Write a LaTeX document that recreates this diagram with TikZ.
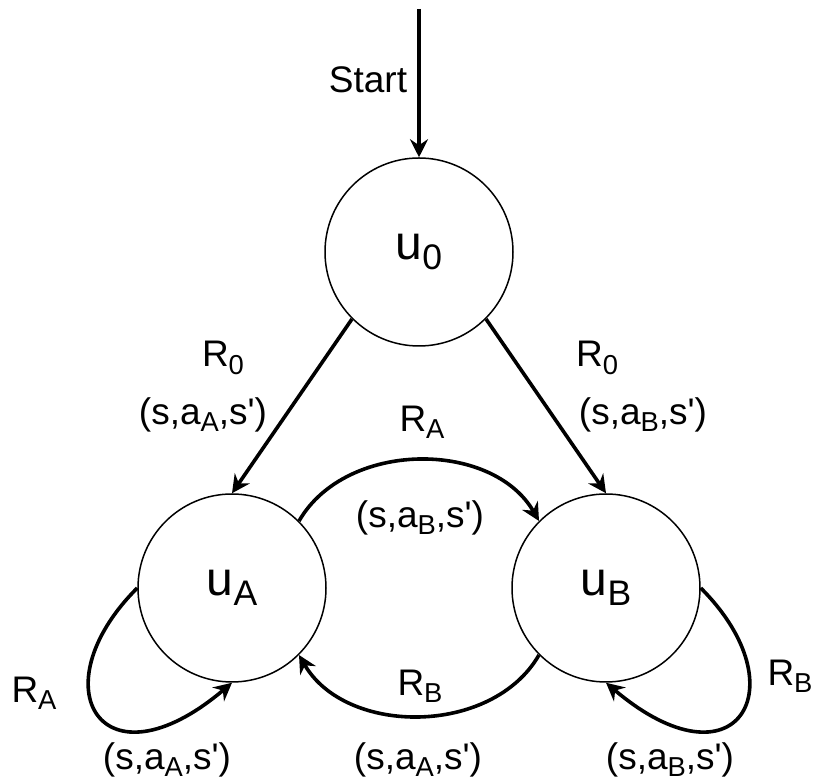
\documentclass[tikz,border=0pt]{standalone}
\usepackage{fontspec}
\usepackage{graphicx}
\setmainfont{Liberation Sans}
\usetikzlibrary{arrows.meta}
\tikzset{
  state/.style={circle,draw,line width=0.75pt,minimum size=94pt,inner sep=0pt,font=\fontsize{24}{28}\selectfont},
  trans/.style={-{Stealth[length=9pt,width=9pt,inset=3pt]},line width=1.8pt},
  lbl/.style={inner sep=0pt,font=\fontsize{18.5}{22}\selectfont}
}
\newcommand{\lowsub}[1]{\raisebox{-0.2em}{\scalebox{0.74}{#1}}}
\newcommand{\tup}[1]{(s,a\lowsub{#1},s\textquotesingle)}

\begin{document}
\begin{tikzpicture}[x=0.5pt,y=0.5pt]

    \useasboundingbox (0,0) rectangle (815,782);

    % States
    \node[state] at (419,530) (U0) {u\lowsub{0}};
    \node[state] at (232,194) (UA) {u\lowsub{A}};
    \node[state] at (606,194) (UB) {u\lowsub{B}};

    % Start
    \coordinate (Start) at (419,773);
    \draw[trans] (Start) -- (U0.north);
    \node[lbl] at (368,702) (LStart) {Start};

    % From u0
    \draw[trans] (U0.-135) -- (UA.north);
    \draw[trans] (U0.-45) -- (UB.north);
    \node[lbl] at (223,424) (L0a) {R\lowsub{0}};
    \node[lbl] at (203,367) (T0a) {\tup{A}};
    \node[lbl] at (597,424) (L0b) {R\lowsub{0}};
    \node[lbl] at (643,367) (T0b) {\tup{B}};

    % Between uA and uB
    \draw[trans] (UA.45) to[bend left=60] (UB.135);
    \node[lbl] at (422,360) (Lab) {R\lowsub{A}};
    \node[lbl] at (420,264) (Tab) {\tup{B}};
    \draw[trans] (UB.-135) to[bend left=60] (UA.-45);
    \node[lbl] at (420,96) (Lba) {R\lowsub{B}};
    \node[lbl] at (418,22) (Tba) {\tup{A}};

    % Self loops
    \draw[trans] (UA.west) .. controls +(-100,-100) and +(-130,-110) .. (UA.south);
    \node[lbl] at (34,89) (Laa) {R\lowsub{A}};
    \node[lbl] at (167,22) (Taa) {\tup{A}};
    \draw[trans] (UB.east) .. controls +(100,-100) and +(130,-110) .. (UB.south);
    \node[lbl] at (790,106) (Lbb) {R\lowsub{B}};
    \node[lbl] at (670,22) (Tbb) {\tup{B}};

\end{tikzpicture}
\end{document}
